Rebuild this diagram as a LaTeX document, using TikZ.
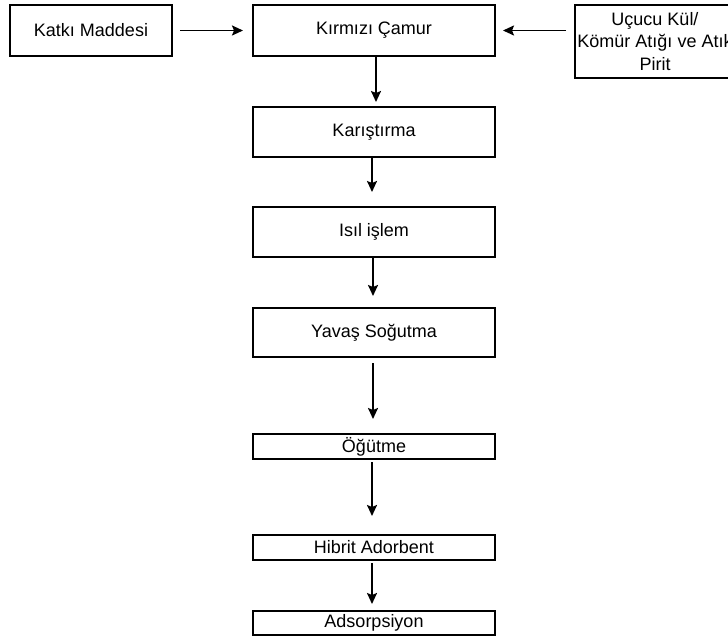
\documentclass[tikz,border=0pt]{standalone}
\usepackage{fontspec}
\setmainfont{Liberation Sans}
\usetikzlibrary{arrows.meta}

\tikzset{
  box/.style={draw=black, line width=2pt, rectangle, inner sep=0pt,
    align=center, font=\fontsize{18}{22.5}\selectfont},
  arr/.style={line width=1.9pt, -{Stealth[length=11pt,width=10pt,inset=2pt]}}
}

\begin{document}
\begin{tikzpicture}[x=1pt, y=-1pt]
  \useasboundingbox (0,0) rectangle (728,636);
  \clip (0,0) rectangle (728,636);

  % source materials and main line
  \node[box, minimum width=162pt, minimum height=51pt] (katki) at (91,30.5) {Katkı Maddesi};
  \node[box, minimum width=242pt, minimum height=51pt] (kirmizi) at (374,30.5) {Kırmızı Çamur};
  \node[box, minimum width=160pt, minimum height=73pt] (ucucu) at (655,41.5)
    {Uçucu Kül/\\Kömür Atığı ve Atık\\Pirit};

  \node[box, minimum width=242pt, minimum height=50pt] (karis) at (374,132) {Karıştırma};
  \node[box, minimum width=242pt, minimum height=50pt] (isil) at (374,232) {Isıl işlem};
  \node[box, minimum width=242pt, minimum height=49pt] (yavas) at (374,332.5) {Yavaş Soğutma};
  \node[box, minimum width=242pt, minimum height=25pt] (ogut) at (374,446.5) {Öğütme};
  \node[box, minimum width=242pt, minimum height=25pt] (hibrit) at (374,547.5) {Hibrit Adorbent};
  \node[box, minimum width=242pt, minimum height=24pt] (ads) at (374,623) {Adsorpsiyon};

  % inputs into the red mud
  \draw[arr] ([xshift=7pt]katki.east) -- ([xshift=-9pt]kirmizi.west);
  \draw[arr] ([xshift=-8pt]kirmizi.east -| ucucu.west) -- ([xshift=7pt]kirmizi.east);

  % process chain
  \draw[arr] ([xshift=2pt]kirmizi.south) -- ([xshift=2pt,yshift=4pt]karis.north);
  \draw[arr] ([xshift=-2pt]karis.south) -- ([xshift=-2pt,yshift=14pt]isil.north);
  \draw[arr] ([xshift=-1pt]isil.south) -- ([xshift=-1pt,yshift=11pt]yavas.north);
  \draw[arr] ([xshift=-1pt,yshift=-5pt]yavas.south) -- ([xshift=-1pt,yshift=14pt]ogut.north);
  \draw[arr] ([xshift=-2pt,yshift=-2pt]ogut.south) -- ([xshift=-2pt,yshift=18pt]hibrit.north);
  \draw[arr] ([xshift=-2pt,yshift=-2pt]hibrit.south) -- ([xshift=-2pt,yshift=6pt]ads.north);
\end{tikzpicture}
\end{document}
